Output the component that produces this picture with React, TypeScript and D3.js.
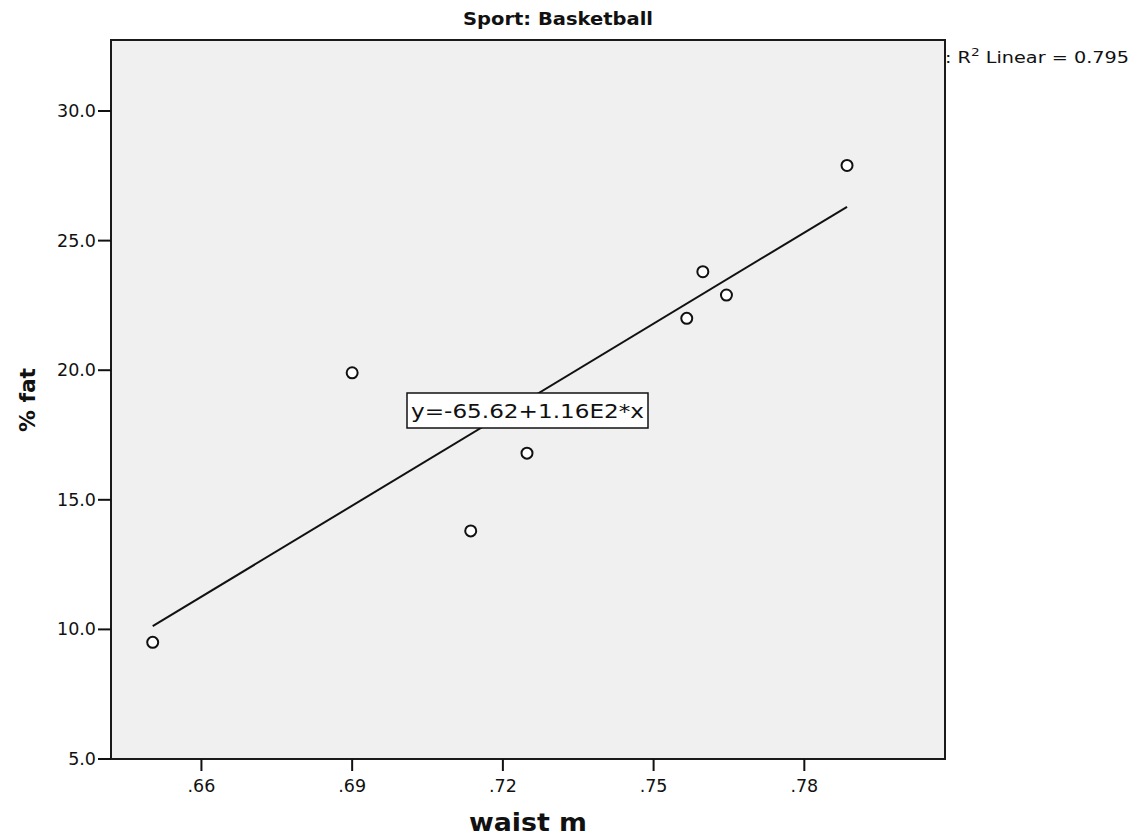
import React from "react";
import * as d3 from "d3";

// waist (m) vs % fat, basketball players
const waist = [0.6503, 0.69, 0.7136, 0.7248, 0.7566, 0.7598, 0.7645, 0.7885];
const fat = [9.5, 19.9, 13.8, 16.8, 22.0, 23.8, 22.9, 27.9];

const xTicks = [0.66, 0.69, 0.72, 0.75, 0.78];
const xTickLabels = [".66", ".69", ".72", ".75", ".78"];
const yTicks = [5, 10, 15, 20, 25, 30];
const yTickLabels = ["5.0", "10.0", "15.0", "20.0", "25.0", "30.0"];

const title = "Sport: Basketball";
const xTitle = "waist m";
const yTitle = "% fat";
const equation = "y=-65.62+1.16E2*x";
const r2Text = "0.795";

const W = 1144;
const H = 840;
const box = { left: 111, top: 40, right: 945, bottom: 759 };
const font = "'DejaVu Sans', sans-serif";

const App = () => {
  const x = d3.scaleLinear().domain([0.642, 0.808]).range([box.left, box.right]);
  const y = d3.scaleLinear().domain([5, 32.74]).range([box.bottom, box.top]);

  // least squares fit
  const mx = d3.mean(waist)!;
  const my = d3.mean(fat)!;
  let sxy = 0;
  let sxx = 0;
  waist.forEach((v, i) => {
    sxy += (v - mx) * (fat[i] - my);
    sxx += (v - mx) * (v - mx);
  });
  const slope = sxy / sxx;
  const icpt = my - slope * mx;
  const ext = d3.extent(waist) as [number, number];
  const fitLine = d3
    .line<number>()
    .x((d) => x(d))
    .y((d) => y(icpt + slope * d));

  return (
    <svg
      width={W}
      height={H}
      style={{ position: "absolute", left: 0, top: 0, background: "#fff" }}
      fontFamily={font}
    >
      <text x={558} y={25} textAnchor="middle" fontSize={17} fontWeight="bold" textLength={190} lengthAdjust="spacingAndGlyphs" fill="#111">
        {title}
      </text>

      <rect
        x={box.left}
        y={box.top}
        width={box.right - box.left}
        height={box.bottom - box.top}
        fill="#f0f0f0"
        stroke="#1a1a1a"
        strokeWidth={2}
      />

      {yTicks.map((t, i) => (
        <g key={"y" + i}>
          <line x1={box.left - 13} x2={box.left} y1={y(t)} y2={y(t)} stroke="#111" strokeWidth={2} />
          <text x={96} y={y(t) + 6} textAnchor="end" fontSize={17.5} fill="#111">
            {yTickLabels[i]}
          </text>
        </g>
      ))}

      {xTicks.map((t, i) => (
        <g key={"x" + i}>
          <line x1={x(t)} x2={x(t)} y1={box.bottom} y2={box.bottom + 12} stroke="#111" strokeWidth={2} />
          <text x={x(t)} y={792} textAnchor="middle" fontSize={17.5} fill="#111">
            {xTickLabels[i]}
          </text>
        </g>
      ))}

      <path d={fitLine([ext[0], ext[1]]) || ""} fill="none" stroke="#111" strokeWidth={2} />

      {waist.map((v, i) => (
        <circle key={i} cx={x(v)} cy={y(fat[i])} r={5.5} fill="#fff" stroke="#111" strokeWidth={2} />
      ))}

      <rect x={407} y={393} width={241} height={35} fill="#fff" stroke="#111" strokeWidth={1.5} />
      <text x={411} y={418} fontSize={20} textLength={233} lengthAdjust="spacingAndGlyphs" fill="#111">
        {equation}
      </text>

      <text x={945} y={63} fontSize={15.5} fill="#111" textLength={184} lengthAdjust="spacingAndGlyphs">
        {": R"}
        <tspan dy={-7} fontSize={11}>2</tspan>
        <tspan dy={7}>{" Linear = " + r2Text}</tspan>
      </text>

      <text x={528} y={831} textAnchor="middle" fontSize={24} fontWeight="bold" textLength={118} lengthAdjust="spacingAndGlyphs" fill="#111">
        {xTitle}
      </text>
      <text
        transform={`translate(35,400) rotate(-90)`}
        textAnchor="middle"
        fontSize={22}
        fontWeight="bold"
        fill="#111"
        textLength={64}
        lengthAdjust="spacingAndGlyphs"
      >
        {yTitle}
      </text>
    </svg>
  );
};

export default App;
